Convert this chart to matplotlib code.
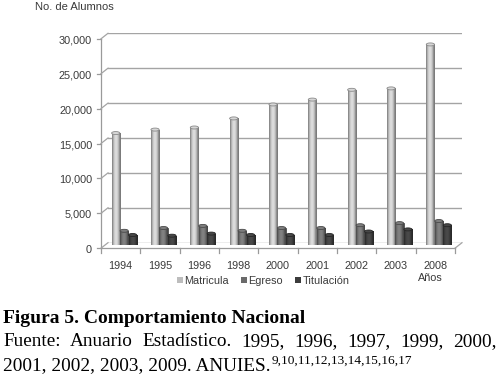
import matplotlib
matplotlib.use('Agg')
import matplotlib.pyplot as plt
import numpy as np
from matplotlib.transforms import ScaledTranslation
from matplotlib.lines import Line2D
from matplotlib.patches import Ellipse, Patch

# ---------------- data ----------------
years = ['1994', '1995', '1996', '1998', '2000', '2001', '2002', '2003', '2008']
matricula = [16100, 16600, 16900, 18200, 20200, 20900, 22300, 22500, 28800]
egreso = [2100, 2500, 2800, 2100, 2500, 2500, 2900, 3200, 3500]
titulacion = [1500, 1400, 1700, 1500, 1500, 1500, 2000, 2300, 2900]
series_names = ['Matricula', 'Egreso', 'Titulación']
y_ticks = [0, 5000, 10000, 15000, 20000, 25000, 30000]
y_label = 'No. de Alumnos'
x_label = 'Años'
caption_title = 'Figura 5. Comportamiento Nacional'
caption_line2 = 'Fuente: Anuario Estadístico. 1995, 1996, 1997, 1999, 2000,'
caption_line3 = '2001, 2002, 2003, 2009. ANUIES.'
caption_sup = '9,10,11,12,13,14,15,16,17'

# ---------------- style ----------------
W, H = 502, 376
DPI = 100
base_cols = ['#c6c6c6', '#747474', '#424242']
edge_cols = ['#8a8a8a', '#4a4a4a', '#262626']
legend_cols = ['#bdbdbd', '#6a6a6a', '#3c3c3c']
txt_col = '#3a3a3a'
grid_col = '#a4a4a4'
sans = ['Liberation Sans', 'DejaVu Sans']
serif = ['Liberation Serif', 'DejaVu Serif']

fig = plt.figure(figsize=(W / DPI, H / DPI), dpi=DPI)
fig.patch.set_facecolor('white')


def fx(px):
    return px / W


def fy(py):
    return 1 - py / H


# back wall of the pseudo-3D chart
wall_l, wall_r, wall_t, wall_b = 108, 462, 33.3, 242.7
ax = fig.add_axes([fx(wall_l), fy(wall_b), (wall_r - wall_l) / W, (wall_b - wall_t) / H])
ax.set_facecolor('none')
for s in ax.spines.values():
    s.set_visible(False)

n = len(years)
x = np.arange(n) + 0.5
bw = 0.215
series = [matricula, egreso, titulacion]
# bars sit half-way in depth: offset from the back wall (pixels)
mid_off = ScaledTranslation(-3.5 / DPI, -2.75 / DPI, fig.dpi_scale_trans)

ax.set_yticks(y_ticks)
ax.set_yticklabels([f'{v:,}' for v in y_ticks])
ax.yaxis.grid(True, color=grid_col, lw=1.0, zorder=0)
ax.set_axisbelow(True)
ax.tick_params(axis='y', length=0, pad=11.5, labelsize=7.8, labelcolor=txt_col)
for lab in ax.get_yticklabels():
    lab.set_fontfamily(sans)
    lab.set_transform(lab.get_transform() + ScaledTranslation(0, -6 / DPI, fig.dpi_scale_trans))

ax.set_xticks(x)
ax.set_xticklabels(years)
ax.tick_params(axis='x', length=0, pad=13, labelsize=7.8, labelcolor=txt_col)
for lab in ax.get_xticklabels():
    lab.set_fontfamily(sans)
    lab.set_transform(lab.get_transform() + ScaledTranslation(-7 / DPI, 0, fig.dpi_scale_trans))

ymax = 30000
px_per_unit = (wall_b - wall_t) / ymax
ell_h = 3.0 / px_per_unit
trans_mid = ax.transData + mid_off

for k, (vals, bc, ec) in enumerate(zip(series, base_cols, edge_cols)):
    pos = x + (k - 1) * bw
    bars = ax.bar(pos, vals, width=bw * 0.97, color=bc, edgecolor=ec, lw=0.6, zorder=3,
                  label=series_names[k], transform=trans_mid)
    base = np.array(matplotlib.colors.to_rgb(bc))
    t = np.linspace(0, 1, 40)
    prof = 0.62 + 0.5 * np.sin(np.pi * np.clip(t * 1.15 - 0.02, 0, 1)) ** 0.8
    rgb = np.clip(base[None, :] * prof[:, None], 0, 1)
    for b in bars:
        x0, w, h = b.get_x(), b.get_width(), b.get_height()
        img = ax.imshow(rgb[None, :, :], extent=[x0, x0 + w, 0, h], aspect='auto',
                        zorder=3.1, interpolation='bilinear')
        img.set_transform(trans_mid)
        img.set_clip_path(b)
        top = Ellipse((x0 + w / 2, h), w, ell_h, facecolor=np.clip(base * 1.08, 0, 1),
                      edgecolor=ec, lw=0.6, zorder=3.2, transform=trans_mid)
        ax.add_patch(top)

ax.set_xlim(0, n)
ax.set_ylim(0, ymax)

# ---------------- pseudo-3D frame (front axis, floor, connectors) ----------------
fig.canvas.draw()
dx_front, dy_front = -7, 5.5  # front edge offset in pixels (image coords)


def px_line(xs, ys, **kw):
    fig.add_artist(Line2D([fx(v) for v in xs], [fy(v) for v in ys],
                          transform=fig.transFigure, color=kw.pop('color', '#9a9a9a'),
                          lw=kw.pop('lw', 0.9), **kw))


front_x = wall_l + dx_front
front_b = wall_b + dy_front
front_t = wall_t + dy_front
front_r = wall_r + dx_front
px_line([front_x, front_x], [front_t, front_b])
for v in y_ticks:
    yb = wall_b - v * px_per_unit
    yf = yb + dy_front
    px_line([front_x - 4, front_x], [yf, yf])
    px_line([front_x, wall_l], [yf, yb], color=grid_col)
px_line([front_x, front_r], [front_b, front_b])
px_line([front_r, wall_r], [front_b, wall_b], color=grid_col)
cat_w = (wall_r - wall_l) / n
for i in range(n + 1):
    xx = front_x + i * cat_w
    px_line([xx, xx], [front_b, front_b + 5])

# ---------------- texts ----------------
fig.text(fx(35), fy(7.5), y_label, fontsize=8.0, color=txt_col, family=sans,
         ha='left', va='center')
fig.text(fx(430), fy(278), x_label, fontsize=7.8, color=txt_col, family=sans,
         ha='center', va='center')

handles = [Patch(facecolor=c, edgecolor='none') for c in legend_cols]
fig.legend(handles, series_names, loc='center', bbox_to_anchor=(fx(263), fy(281)),
           ncol=3, frameon=False, handlelength=0.55, handleheight=0.55,
           handletextpad=0.15, columnspacing=1.1, labelcolor=txt_col,
           prop={'family': sans, 'size': 7.8})

fig.text(fx(3), fy(322.7), caption_title, fontsize=14, fontweight='bold',
         family=serif, color='black', ha='left', va='baseline')

cap_fs = 13.9
words = caption_line2.split(' ')
renderer = fig.canvas.get_renderer()
widths = []
for wd in words:
    t_ = fig.text(0, 0, wd, fontsize=cap_fs, family=serif)
    widths.append(t_.get_window_extent(renderer=renderer).width)
    t_.remove()
left, right = 3, 497
gap = (right - left - sum(widths)) / (len(words) - 1)
cx = left
for wd, wdt in zip(words, widths):
    fig.text(fx(cx), fy(346.3), wd, fontsize=cap_fs, family=serif, color='black',
             ha='left', va='baseline')
    cx += wdt + gap

t3 = fig.text(fx(3), fy(370), caption_line3, fontsize=cap_fs, family=serif, color='black',
              ha='left', va='baseline')
bb3 = t3.get_window_extent(renderer=renderer)
fig.text(bb3.x1 / W + fx(1), fy(363.5), caption_sup, fontsize=9.6, family=serif,
         color='black', ha='left', va='baseline')

fig.savefig('out.png', dpi=DPI, facecolor='white')
